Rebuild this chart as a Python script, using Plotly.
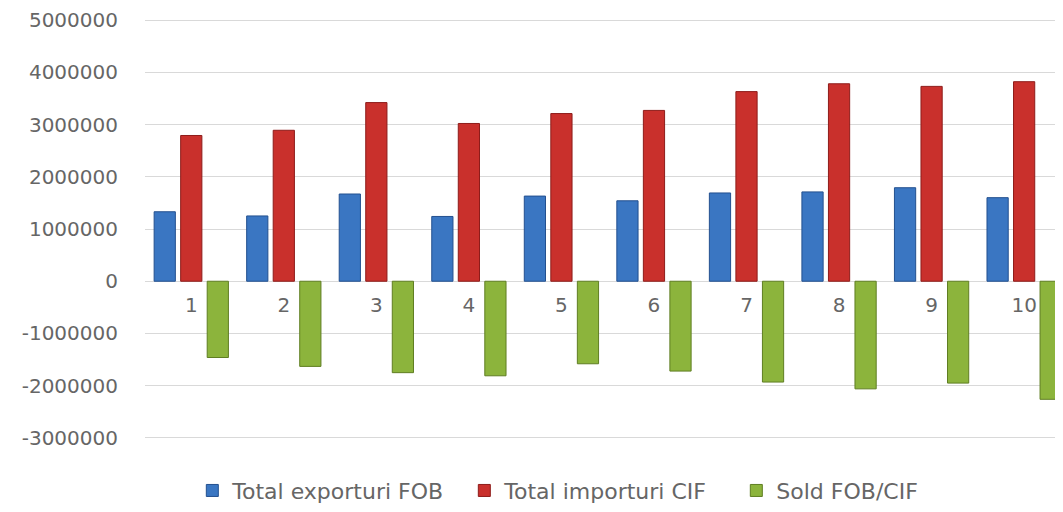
import plotly.graph_objects as go

# data
months = list(range(1, 11))
exports_fob = [1330000, 1250000, 1670000, 1240000, 1630000,
               1540000, 1690000, 1710000, 1790000, 1600000]
imports_cif = [2790000, 2890000, 3420000, 3020000, 3210000,
               3270000, 3630000, 3780000, 3730000, 3820000]
sold_fob_cif = [-1460000, -1630000, -1750000, -1810000, -1580000,
                -1720000, -1930000, -2060000, -1950000, -2260000]

y_ticks = [5000000, 4000000, 3000000, 2000000, 1000000, 0,
           -1000000, -2000000, -3000000]
y_tick_text = ["5000000", "4000000", "3000000", "2000000", "1000000", "0",
               "-1000000", "-2000000", "-3000000"]

series = [
    ("Total exporturi FOB", exports_fob, "#3a76c2", "#23508f"),
    ("Total importuri CIF", imports_cif, "#c9302c", "#8e1c1a"),
    ("Sold FOB/CIF", sold_fob_cif, "#8cb43c", "#5f7e22"),
]

fig = go.Figure()
for name, vals, color, edge in series:
    fig.add_trace(go.Bar(x=months, y=vals, name=name,
                         marker_color=color,
                         marker_line_color=edge,
                         marker_line_width=1))

text_color = "#666666"
font_family = "DejaVu Sans"

y_lo, y_hi = -3020000, 5020000
zero_pos = (0 - y_lo) / (y_hi - y_lo)

# page body keeps an 8px margin, so the figure is drawn 8px smaller
fig.update_layout(
    width=1055, height=504,
    margin=dict(l=137, r=0, t=8, b=73),
    paper_bgcolor="white", plot_bgcolor="white",
    barmode="group", bargap=0.14, bargroupgap=0.2,
    font=dict(family=font_family, color=text_color, size=17),
    showlegend=True,
    legend=dict(orientation="h", x=0.496, xanchor="center",
                y=-0.123, yanchor="middle",
                font=dict(size=22, color=text_color),
                itemwidth=30, entrywidth=227),
)
fig.update_yaxes(range=[y_lo, y_hi], tickvals=y_ticks, ticktext=y_tick_text,
                 showgrid=True, gridcolor="#d9d9d9", gridwidth=1,
                 zeroline=True, zerolinecolor="#d9d9d9", zerolinewidth=1,
                 tickfont=dict(size=20, color=text_color),
                 ticklabelstandoff=26, ticklabeloverflow="allow",
                 showline=False)
fig.update_xaxes(range=[0.5, 10.42], tickvals=months,
                 anchor="free", position=zero_pos,
                 showgrid=False, zeroline=False, showline=False,
                 ticks="", ticklabelstandoff=10,
                 tickfont=dict(size=20, color=text_color))

fig.write_html("out.html")
